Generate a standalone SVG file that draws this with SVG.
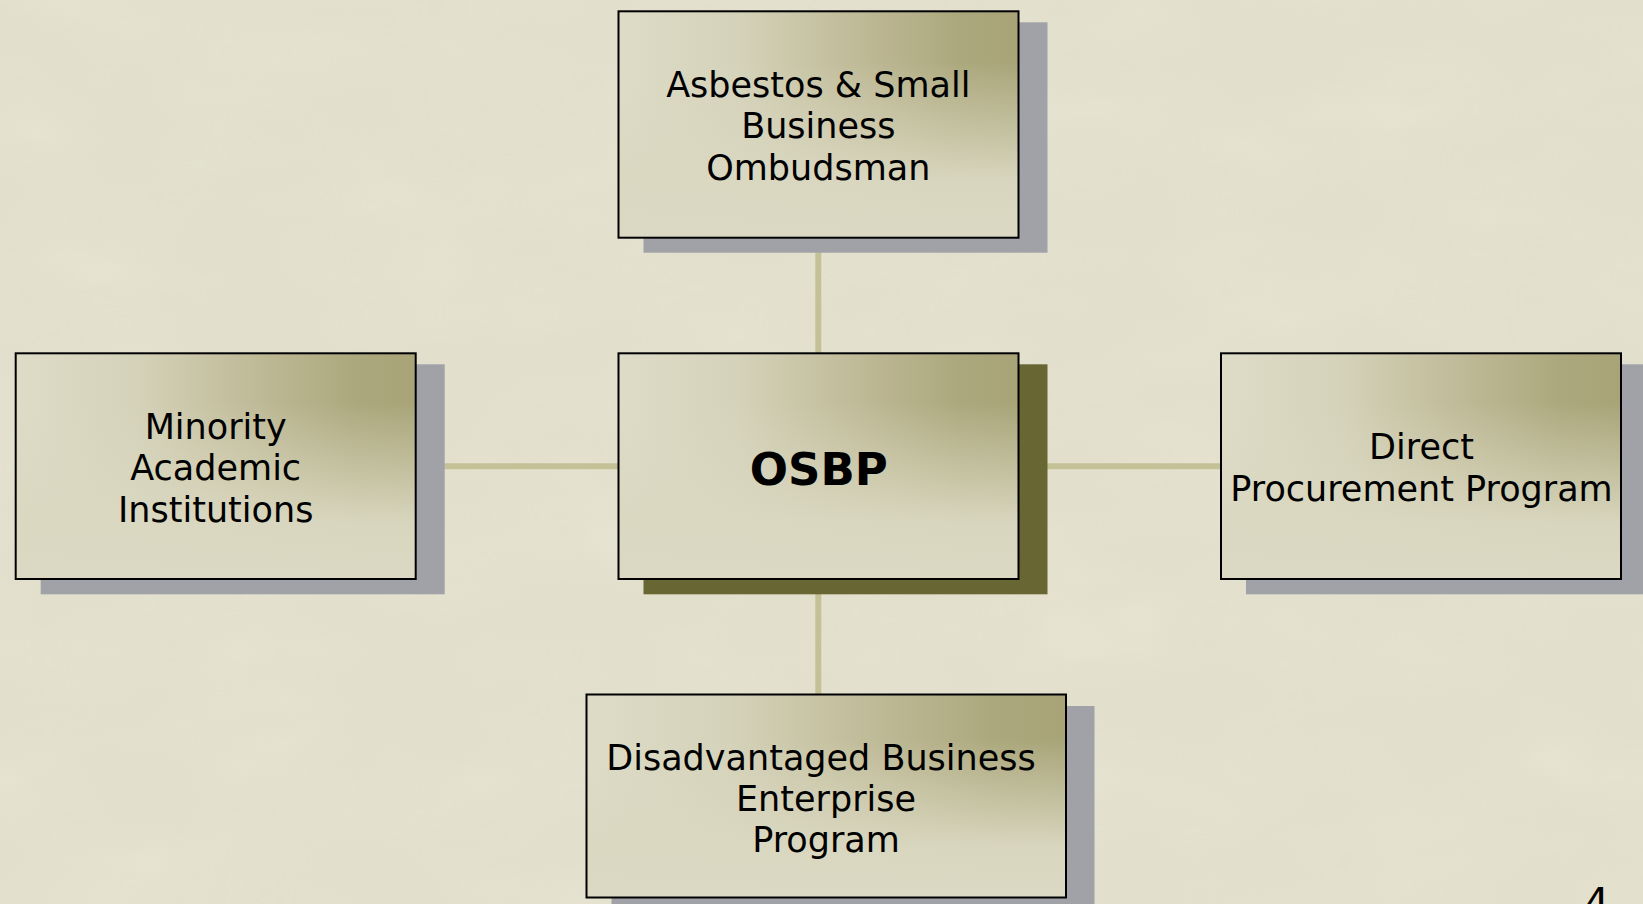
<svg xmlns="http://www.w3.org/2000/svg" width="1643" height="904" viewBox="0 0 1643 904">
  <defs>
    <!-- box fill: light at left, dark olive toward the upper right -->
    <linearGradient id="boxH" x1="0" y1="0" x2="1" y2="0">
      <stop offset="0" stop-color="#dedcc7"/>
      <stop offset="0.3" stop-color="#d4d2b9"/>
      <stop offset="0.6" stop-color="#bfba97"/>
      <stop offset="0.85" stop-color="#aca87d"/>
      <stop offset="1" stop-color="#a8a478"/>
    </linearGradient>
    <!-- fades the lower half back to light -->
    <linearGradient id="boxV" x1="0" y1="0" x2="0" y2="1">
      <stop offset="0" stop-color="#dad8c1" stop-opacity="0"/>
      <stop offset="0.22" stop-color="#dad8c1" stop-opacity="0"/>
      <stop offset="0.75" stop-color="#dad8c1" stop-opacity="0.95"/>
      <stop offset="1" stop-color="#dbd9c3" stop-opacity="1"/>
    </linearGradient>
    <filter id="paper" x="0" y="0" width="100%" height="100%">
      <feTurbulence type="fractalNoise" baseFrequency="0.006 0.012" numOctaves="3" seed="7" result="n"/>
      <feColorMatrix in="n" type="matrix" values="0 0 0 0 1  0 0 0 0 1  0 0 0 0 0.95  0 0 0 0.9 -0.35" result="spots"/>
      <feComposite in="spots" in2="SourceGraphic" operator="in"/>
    </filter>
  </defs>
  <style>
    .bg { fill: #e2e0cc; }
    .shadow { fill: #a0a2a8; }
    .shadow-main { fill: #686632; }
    .box-base { fill: url(#boxH); }
    .box-fade { fill: url(#boxV); }
    .box-edge { fill: none; stroke: #000; stroke-width: 2; }
    .label { font-family: "DejaVu Sans", Verdana, sans-serif; font-size: 35px; fill: #000; text-anchor: middle; }
    .title { font-family: "DejaVu Sans", Verdana, sans-serif; font-size: 45px; font-weight: bold; fill: #000; text-anchor: middle; }
    .conn { stroke: #c5c196; stroke-width: 6; fill: none; }
    .pagenum { font-family: "DejaVu Sans", Verdana, sans-serif; font-size: 40px; fill: #000; }
  </style>

  <!-- background -->
  <rect class="bg" x="0" y="0" width="1643" height="904"/>
  <rect x="0" y="0" width="1643" height="904" fill="#e2e0cc" filter="url(#paper)" opacity="0.25"/>

  <!-- connectors -->
  <g id="connectors">
    <line class="conn" x1="818.3" y1="250" x2="818.3" y2="354"/>
    <line class="conn" x1="818.3" y1="592" x2="818.3" y2="695"/>
    <line class="conn" x1="444" y1="466.2" x2="619" y2="466.2"/>
    <line class="conn" x1="1046" y1="466.2" x2="1222" y2="466.2"/>
  </g>

  <!-- top: ombudsman -->
  <g id="node-ombudsman">
    <rect class="shadow" x="643.5" y="22.3" width="404" height="230.4"/>
    <rect class="box-base" x="618.5" y="11.3" width="400" height="226.4"/>
    <rect class="box-fade" x="618.5" y="11.3" width="400" height="226.4"/>
    <rect class="box-edge" x="618.5" y="11.3" width="400" height="226.4"/>
    <text class="label" x="818.3" y="96.7">Asbestos &amp; Small</text>
    <text class="label" x="818.3" y="138.3">Business</text>
    <text class="label" x="818.3" y="180">Ombudsman</text>
  </g>

  <!-- center: OSBP -->
  <g id="node-osbp">
    <rect class="shadow-main" x="643.5" y="364.3" width="404" height="230"/>
    <rect class="box-base" x="618.5" y="353.3" width="400" height="225.7"/>
    <rect class="box-fade" x="618.5" y="353.3" width="400" height="225.7"/>
    <rect class="box-edge" x="618.5" y="353.3" width="400" height="225.7"/>
    <text class="title" x="818.8" y="485">OSBP</text>
  </g>

  <!-- left: minority academic institutions -->
  <g id="node-minority">
    <rect class="shadow" x="40.7" y="364.3" width="404" height="230"/>
    <rect class="box-base" x="15.7" y="353.3" width="400" height="225.7"/>
    <rect class="box-fade" x="15.7" y="353.3" width="400" height="225.7"/>
    <rect class="box-edge" x="15.7" y="353.3" width="400" height="225.7"/>
    <text class="label" x="215.7" y="439.3">Minority</text>
    <text class="label" x="215.7" y="480">Academic</text>
    <text class="label" x="215.7" y="521.7">Institutions</text>
  </g>

  <!-- right: direct procurement program -->
  <g id="node-direct">
    <rect class="shadow" x="1246" y="364.3" width="404" height="230"/>
    <rect class="box-base" x="1221" y="353.3" width="400" height="225.7"/>
    <rect class="box-fade" x="1221" y="353.3" width="400" height="225.7"/>
    <rect class="box-edge" x="1221" y="353.3" width="400" height="225.7"/>
    <text class="label" x="1421.5" y="459.3">Direct</text>
    <text class="label" x="1421.5" y="500.7">Procurement Program</text>
  </g>

  <!-- bottom: disadvantaged business enterprise program -->
  <g id="node-dbe">
    <rect class="shadow" x="611.5" y="706" width="483" height="210"/>
    <rect class="box-base" x="586.5" y="694.5" width="479.5" height="203"/>
    <rect class="box-fade" x="586.5" y="694.5" width="479.5" height="203"/>
    <rect class="box-edge" x="586.5" y="694.5" width="479.5" height="203"/>
    <text class="label" x="821" y="769.5">Disadvantaged Business</text>
    <text class="label" x="826" y="810.5">Enterprise</text>
    <text class="label" x="826" y="852">Program</text>
  </g>

  <!-- page number -->
  <text class="pagenum" x="1584" y="917">4</text>
</svg>
